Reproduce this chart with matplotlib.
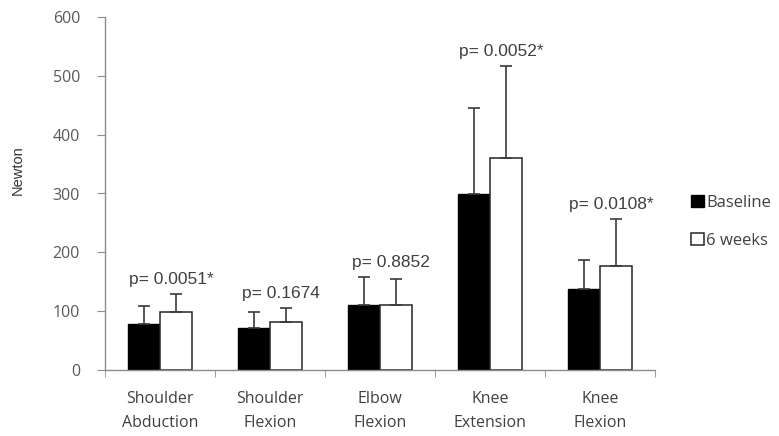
import matplotlib as mpl
import matplotlib.pyplot as plt
import numpy as np

mpl.rcParams.update(
    {
        "figure.dpi": 100,
        "font.family": ["Open Sans", "DejaVu Sans"],
        "axes.spines.top": False,
        "axes.spines.right": False,
    }
)

# data
categories = ["Shoulder\nAbduction", "Shoulder\nFlexion", "Elbow\nFlexion", "Knee\nExtension", "Knee\nFlexion"]
baseline = [79, 71, 110, 299, 137]
baseline_sd = [30, 28, 48, 146, 50]
weeks6 = [98, 81, 110, 360, 177]
weeks6_sd = [31, 25, 44, 156, 79]
p_labels = ["p= 0.0051*", "p= 0.1674", "p= 0.8852", "p= 0.0052*", "p= 0.0108*"]
series_names = ["Baseline", "6 weeks"]

TEXT = "#404040"
AXIS = "#8c8c8c"

fig = plt.figure(figsize=(7.79, 4.36))
ax = fig.add_axes([105 / 779, 1 - 370 / 436, 550 / 779, 353 / 436])

x = np.arange(len(categories))
width = 0.29
err_kw = {"ecolor": "#3a3a3a", "elinewidth": 1.2, "capsize": 4.3, "capthick": 1.2}
b1 = ax.bar(x - width / 2, baseline, width, color="black", edgecolor="black", linewidth=1.0,
            yerr=[np.zeros(len(x)), baseline_sd], error_kw=err_kw, label=series_names[0])
b2 = ax.bar(x + width / 2, weeks6, width, color="white", edgecolor="#262626", linewidth=1.1,
            yerr=[np.zeros(len(x)), weeks6_sd], error_kw=err_kw, label=series_names[1])

tops = np.maximum(np.add(baseline, baseline_sd), np.add(weeks6, weeks6_sd))
for i, label in enumerate(p_labels):
    ax.annotate(label, (x[i] + 0.1, tops[i]), xytext=(0, 5), textcoords="offset points",
                ha="center", va="bottom", fontsize=12.5, color=TEXT, family="Liberation Sans")

ax.set_xlim(-0.5, len(categories) - 0.5)
ax.set_ylim(0, 600)
ax.set_yticks(np.arange(0, 601, 100))
ax.set_xticks(x)
ax.set_xticklabels(categories, fontsize=11.5, color=TEXT, linespacing=1.7)
ax.set_xticks(np.arange(-0.5, len(categories)), minor=True)
ax.tick_params(axis="x", which="major", length=0, pad=15)
ax.tick_params(axis="x", which="minor", length=5, color=AXIS, direction="out")
ax.tick_params(axis="y", length=6, color=AXIS, labelsize=11.5, labelcolor="#595959", pad=12)
for side in ("left", "bottom"):
    ax.spines[side].set_color(AXIS)
    ax.spines[side].set_linewidth(1.0)

ax.set_ylabel("Newton", fontsize=10.5, color="#333333", family="Liberation Sans")
ax.yaxis.set_label_coords(-0.146, 0.567)

fig.legend(handles=[b1, b2], loc="center left", bbox_to_anchor=(683 / 779, 1 - 222 / 436),
           frameon=False, fontsize=12, handlelength=0.75, handleheight=0.75, handletextpad=0.15,
           labelspacing=1.3, labelcolor=TEXT, borderpad=0)

fig.savefig("out.png", dpi=100, facecolor="white")
